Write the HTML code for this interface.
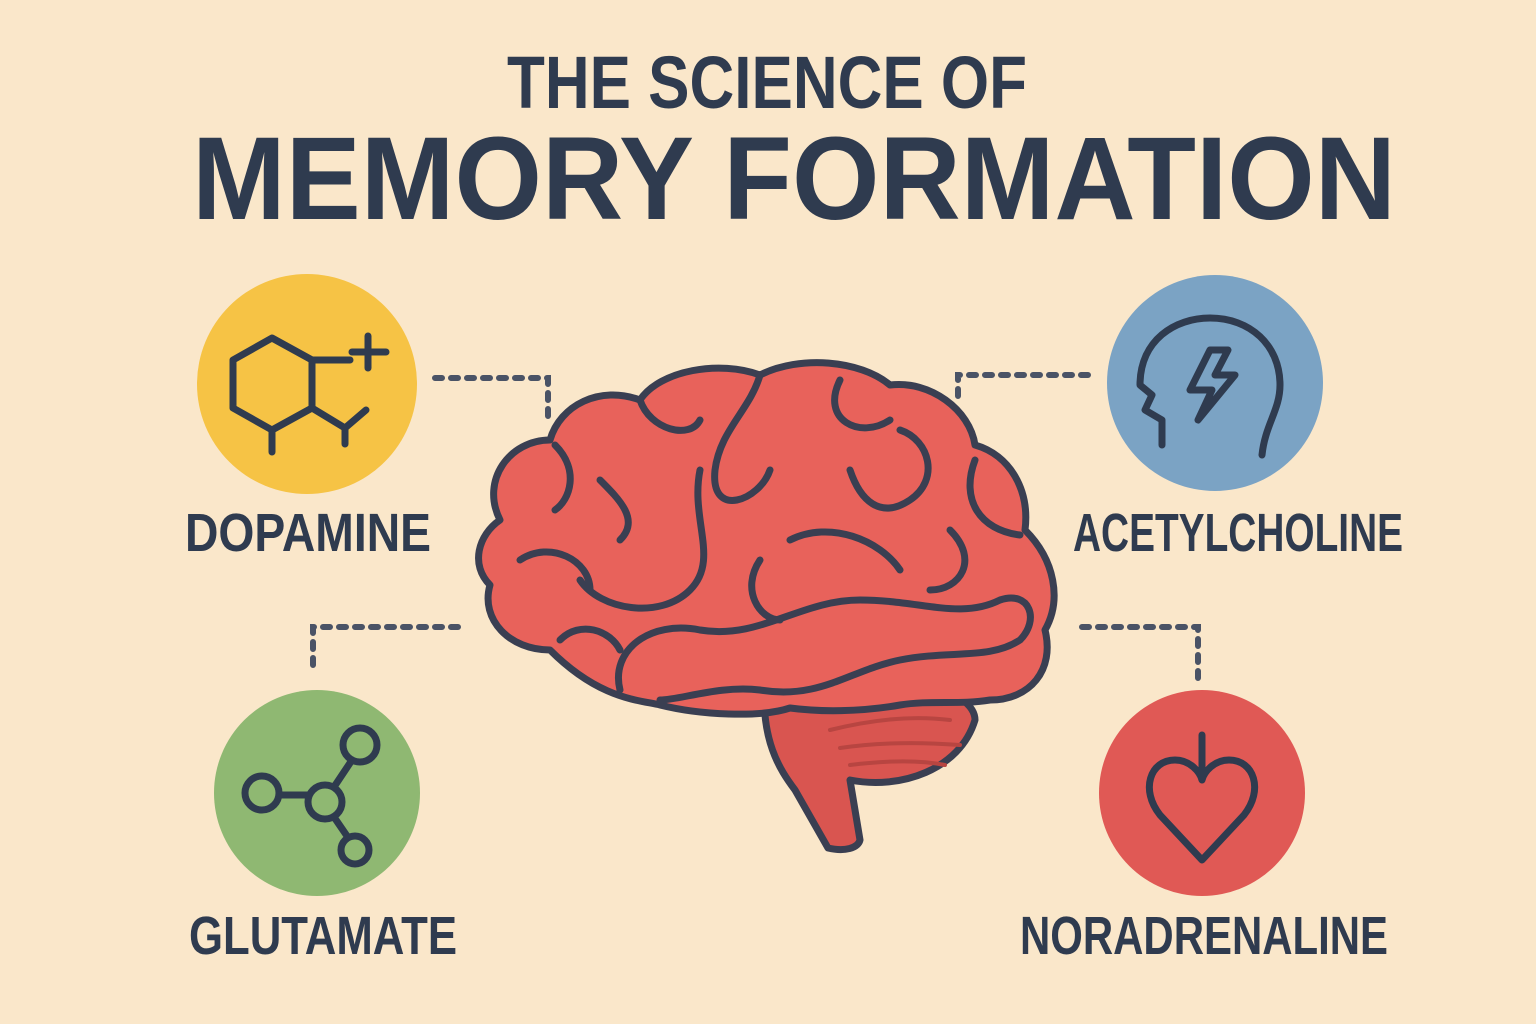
<!DOCTYPE html>
<html><head><meta charset="utf-8"><style>
html,body{margin:0;padding:0;background:#FAE7CA;}
svg{display:block}
</style></head><body>
<svg width="1536" height="1024" viewBox="0 0 1536 1024" xmlns="http://www.w3.org/2000/svg">
<rect width="1536" height="1024" fill="#FAE7CA"/>
<g font-family="Liberation Sans, sans-serif" font-weight="bold" fill="#2F3B4F">
<text x="507" y="108" font-size="74" textLength="520" lengthAdjust="spacingAndGlyphs">THE SCIENCE OF</text>
<text x="192" y="219" font-size="118" textLength="1204" lengthAdjust="spacingAndGlyphs">MEMORY FORMATION</text>
<text x="185" y="551" font-size="54" textLength="246" lengthAdjust="spacingAndGlyphs">DOPAMINE</text>
<text x="1073" y="551" font-size="54" textLength="330" lengthAdjust="spacingAndGlyphs">ACETYLCHOLINE</text>
<text x="189" y="954" font-size="54" textLength="268" lengthAdjust="spacingAndGlyphs">GLUTAMATE</text>
<text x="1020" y="954" font-size="54" textLength="368" lengthAdjust="spacingAndGlyphs">NORADRENALINE</text>
</g>
<g stroke="#4A5366" stroke-width="6" fill="none" stroke-dasharray="7 9" stroke-linecap="round">
<path d="M435 378 H548 V418"/>
<path d="M1088 375 H958 V404"/>
<path d="M458 627 H313 V674"/>
<path d="M1082 627 H1198 V682"/>
</g>
<circle cx="307" cy="384" r="110" fill="#F6C345"/>
<circle cx="1215" cy="383" r="108" fill="#7BA3C4"/>
<circle cx="317" cy="793" r="103" fill="#8FB872"/>
<circle cx="1202" cy="793" r="103" fill="#E05955"/>
<g stroke="#2F3B4F" stroke-width="7" fill="none" stroke-linecap="round" stroke-linejoin="round">
<path d="M272 338 L312 360 L312 408 L272 430 L233 408 L233 360 Z"/>
<path d="M312 360 H350 M368 336 V368 M352 352 H386"/>
<path d="M312 408 L345 428 L366 410 M345 428 V444 M272 430 V452"/>
<path d="M1162 445 V420 L1145 410 L1152 395 L1140 385 C1140 340 1175 318 1210 318 C1250 318 1280 345 1280 385 C1280 410 1265 425 1262 455"/>
<path d="M1210 350 L1190 390 H1212 L1198 420 L1235 375 H1215 L1228 350 Z"/>
<circle cx="262" cy="793" r="17"/><circle cx="325" cy="802" r="17"/><circle cx="360" cy="745" r="17"/><circle cx="355" cy="850" r="14"/>
<path d="M279 795 H308 M334 787 L352 760 M334 817 L347 836"/>
<path d="M1202 735 V770 M1202 860 L1160 815 C1140 790 1150 760 1175 760 C1190 760 1200 772 1202 780 C1204 772 1214 760 1229 760 C1254 760 1264 790 1244 815 Z"/>
</g>
<g stroke="#3A3F52" stroke-width="7" stroke-linejoin="round" stroke-linecap="round">
<path d="M765 680 C760 740 780 770 795 790 L828 848 C845 852 858 848 860 840 L850 780 C900 790 960 770 975 720 C975 690 900 670 830 670 Z" fill="#D95550"/>
<path fill="#E8625B" d="M500 520 C480 480 510 440 550 440 C560 405 600 385 640 400 C660 370 720 360 760 375 C800 355 860 360 890 385 C930 380 970 410 975 445 C1010 455 1030 490 1025 530 C1055 560 1062 600 1045 630 C1055 670 1030 700 990 700 C960 705 930 700 900 705 C860 712 820 712 790 708 C760 718 700 715 660 705 C640 700 600 700 550 650 C510 650 480 620 490 585 C470 565 478 535 500 520 Z"/>
<g fill="none">
<path d="M555 445 C580 470 570 500 555 510 M640 400 C650 430 690 440 700 420 M760 375 C750 410 720 430 715 470 C710 520 760 500 770 470"/>
<path d="M840 380 C820 420 860 440 890 420 M900 430 C930 440 940 480 910 500 C880 520 860 500 850 470"/>
<path d="M975 460 C960 500 980 530 1020 535 M700 470 C690 520 720 560 690 590 C660 620 600 610 580 580"/>
<path d="M520 560 C550 540 590 560 590 590 M600 480 C620 500 640 520 620 540"/>
<path d="M620 690 C610 650 650 620 700 630 C760 640 800 600 860 600 C920 600 960 620 1000 600 C1030 590 1040 620 1020 640 C990 660 950 650 900 660 C850 670 820 700 760 690 C720 685 680 700 660 700"/>
<path d="M790 540 C830 520 880 540 900 570 M950 530 C980 560 960 590 930 590 M760 560 C740 590 760 620 780 620"/>
<path d="M560 640 C580 620 610 630 620 650"/>
</g>
</g>
<g stroke="#B84541" stroke-width="4" fill="none" stroke-linecap="round">
<path d="M830 730 C870 720 910 715 950 720 M840 748 C880 742 920 742 960 745 M850 765 C890 760 920 760 945 765"/>
</g>
</svg>
</body></html>
